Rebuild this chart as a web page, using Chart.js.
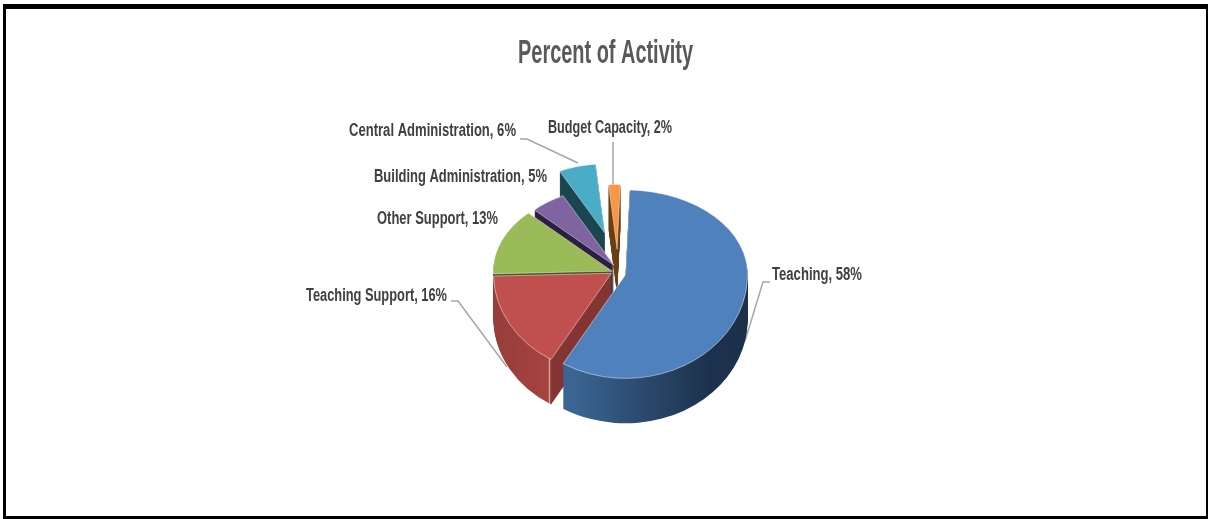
<!DOCTYPE html>
<html>
<head>
<meta charset="utf-8">
<title>Percent of Activity</title>
<style>
  html, body { margin: 0; padding: 0; background: #fff; }
  #stage { position: relative; width: 1208px; height: 519px; overflow: hidden; }
  #stage canvas { position: absolute; left: 0; top: 0; display: block; }
  #frame {
    position: absolute; left: 3px; top: 4px; width: 1200px; height: 507px;
    border-style: solid; border-color: #000; border-width: 5px 2px 3px 3px;
    pointer-events: none;
  }
</style>
<script src="https://cdn.jsdelivr.net/npm/chart.js@4"></script>
</head>
<body>
<div id="stage">
  <canvas id="pie" width="1208" height="519"></canvas>
  <div id="frame"></div>
</div>
<script>
// Budget categories and their share of activity, in percent.
const chartTitle = 'Percent of Activity';
const categories = ['Teaching', 'Teaching Support', 'Other Support', 'Building Administration', 'Central Administration', 'Budget Capacity'];
const percents = [58, 16, 13, 5, 6, 2];

// Office-style slice colours for the top faces.
const faceColors = ['#4f81bd', '#c0504d', '#9bbb59', '#8064a2', '#4bacc6', '#f79646'];
// Side-wall shading: [fraction across the slice's diameter, colour].
const wallStops = [
  [[0, '#3f6b9b'], [0.25, '#3a6491'], [0.5, '#2d4c71'], [0.8, '#1d324c'], [1, '#1b2f49']],
  [[0, '#963d3a'], [0.245, '#a54340'], [0.25, '#d9a5a3'], [0.256, '#843432'], [1, '#843432']],
  [[0, '#3f5220'], [1, '#3f5220']],
  [[0, '#2b2040'], [1, '#2b2040']],
  [[0, '#1b4651'], [1, '#1b4651']],
  [[0, '#6b3e12'], [1, '#6b3e12']]
];

// Pie geometry: how far each slice is pulled out along its middle angle,
// its radius, and a sideways nudge.
const pullOut = [11, 3, 3, 12, 59, 33];
const sliceRadius = [122, 118, 119, 113, 100, 94];
const sliceShiftX = [2, 1, 2, 8, 8, 5];
const pieRadius = 120, pieShiftX = 9, depth = 45, farSquash = 0.69, nearSquash = 0.85;

// Data label placement: left edge, vertical middle, and fitted width.
const labelX = [772, 306, 377, 374, 349, 548];
const labelY = [275, 296, 219, 177, 131, 128];
const labelWidth = [90, 141, 121, 173, 167, 124];
// Leader lines for the labels that have one.
const leaders = [
  [[770, 282], [763, 282], [745, 341]],
  [[451, 301], [458, 301], [507, 367]],
  null,
  null,
  [[520, 139], [527, 139], [578, 163]],
  [[613, 142], [613, 185]]
];

const FAMILY = '"Liberation Sans", sans-serif';

// Condensed text: the face is squeezed horizontally to a set width.
function fittedText(ctx, text, x, y, targetWidth) {
  const natural = ctx.measureText(text).width;
  ctx.save();
  ctx.translate(x, y);
  ctx.scale(targetWidth / natural, 1);
  ctx.fillText(text, 0, 0);
  ctx.restore();
}

const pie3d = {
  id: 'pie3d',
  afterDatasetUpdate(chart) {
    chart.getDatasetMeta(0).data.forEach((arc, i) => {
      arc.outerRadius = sliceRadius[i];
    });
  },
  beforeDatasetDraw(chart) {
    const { ctx, width, height } = chart;
    const arcs = chart.getDatasetMeta(0).data;
    const cy = Math.round(arcs[0].y);

    // Leader lines sit behind the pie.
    ctx.save();
    ctx.strokeStyle = '#a6a6a6';
    ctx.lineWidth = 1.5;
    leaders.forEach(path => {
      if (!path) return;
      ctx.beginPath();
      path.forEach(([x, y], k) => (k ? ctx.lineTo(x, y) : ctx.moveTo(x, y)));
      ctx.stroke();
    });
    ctx.restore();

    // Wall fills, built once per slice in the pie's own coordinates.
    const walls = arcs.map((arc, i) => {
      const cx = arc.x + (i === 0 ? 11 : -3);
      const r = sliceRadius[i];
      const g = ctx.createLinearGradient(cx - r, 0, cx + r, 0);
      wallStops[i].forEach(([p, c]) => g.addColorStop(p, c));
      return g;
    });

    const paintLayer = (shift, styled) => {
      const seam = cy + shift;
      [[0, seam, farSquash], [seam, height - seam, nearSquash]].forEach(([top, h, k]) => {
        ctx.save();
        ctx.beginPath();
        ctx.rect(0, top, width, h);
        ctx.clip();
        ctx.translate(pieShiftX, seam);
        ctx.scale(1, k);
        ctx.translate(0, -arcs[0].y);
        arcs.forEach((arc, i) => {
          const mid = (arc.startAngle + arc.endAngle) / 2;
          ctx.save();
          ctx.translate(sliceShiftX[i] + Math.cos(mid) * pullOut[i], Math.sin(mid) * pullOut[i]);
          const saved = arc.options;
          arc.options = styled(saved, i);
          arc.draw(ctx);
          arc.options = saved;
          ctx.restore();
        });
        ctx.restore();
      });
    };

    // Stack the extrusion from the bottom layer up, then the top faces.
    for (let d = depth; d >= 1; d--) {
      paintLayer(d, (o, i) => Object.assign({}, o, { backgroundColor: walls[i], borderWidth: 0 }));
    }
    paintLayer(0, o => o);
    return false;
  },
  afterDraw(chart) {
    const { ctx } = chart;
    ctx.save();
    ctx.textBaseline = 'middle';
    ctx.textAlign = 'left';

    ctx.font = 'bold 34px ' + FAMILY;
    ctx.fillStyle = '#595959';
    fittedText(ctx, chartTitle, 518, 54, 175);

    ctx.font = 'bold 18px ' + FAMILY;
    ctx.fillStyle = '#404040';
    categories.forEach((name, i) => {
      fittedText(ctx, name + ', ' + percents[i] + '%', labelX[i], labelY[i], labelWidth[i]);
    });
    ctx.restore();
  }
};

new Chart(document.getElementById('pie'), {
  type: 'pie',
  data: {
    labels: categories,
    datasets: [{
      data: percents,
      backgroundColor: faceColors,
      borderColor: 'rgba(255,255,255,0.5)',
      borderWidth: 1
    }]
  },
  options: {
    responsive: false,
    animation: false,
    events: [],
    rotation: 2,
    radius: pieRadius,
    layout: { padding: { left: 0, right: 0, top: 25, bottom: 0 } },
    plugins: {
      legend: { display: false },
      tooltip: { enabled: false },
      title: { display: false }
    }
  },
  plugins: [pie3d]
});
</script>
</body>
</html>
